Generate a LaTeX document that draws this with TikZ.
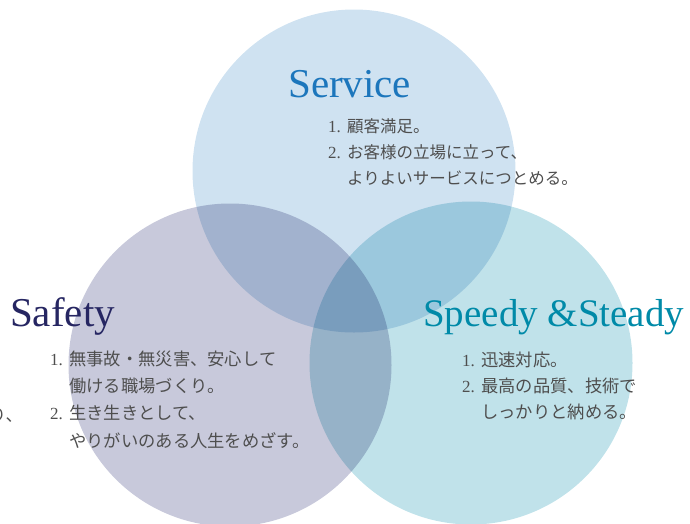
\documentclass[tikz,border=0pt]{standalone}
\usepackage{fontspec}
\setmainfont{Liberation Serif}
\newfontfamily\jpfont{Noto Sans CJK JP}
\usepackage{xcolor}
\definecolor{serviceblue}{RGB}{207,226,241}
\definecolor{safetygray}{RGB}{200,201,219}
\definecolor{speedyaqua}{RGB}{192,226,234}
\definecolor{servicetext}{RGB}{28,118,188}
\definecolor{safetytext}{RGB}{38,38,98}
\definecolor{speedytext}{RGB}{0,138,168}
\definecolor{bodygray}{RGB}{78,78,78}
\newcommand{\itemno}[1]{\makebox[19pt][l]{\rmfamily\fontsize{17}{26.5}\selectfont #1}}
\newcommand{\indentno}{\hspace*{19pt}}
\tikzset{
  ring/.style={circle, minimum size=323pt, inner sep=0pt, blend mode=multiply},
  heading/.style={anchor=base west, inner sep=0pt, font=\fontsize{41}{41}\selectfont},
  points/.style={anchor=base west, inner sep=0pt, align=left, text=bodygray,
    font=\fontsize{17}{26.5}\selectfont\jpfont},
}
\begin{document}
\begin{tikzpicture}[x=1pt, y=-1pt]
    \useasboundingbox (0, 0) rectangle (690, 523);
    % the three circles
    \node[ring, fill=serviceblue] (service) at (354, 171) {};
    \node[ring, fill=safetygray] (safety) at (230, 365) {};
    \node[ring, fill=speedyaqua] (speedy) at (471, 363) {};
    % headings
    \node[heading, text=servicetext] (servicetitle) at (288, 97) {Service};
    \node[heading, text=safetytext] (safetytitle) at (10, 326) {Safety};
    \node[heading, text=speedytext, font=\fontsize{39}{39}\selectfont] (speedytitle) at (423, 326) {Speedy \&Steady};
    % items (anchored at the last line)
    \node[points, font=\fontsize{16.5}{26}\selectfont\jpfont] (servicelist) at (328, 184)
        {\itemno{1.}顧客満足。\\
         \itemno{2.}お客様の立場に立って、\\
         \indentno よりよいサービスにつとめる。};
    \node[points, font=\fontsize{17.3}{27.3}\selectfont\jpfont] (safetylist) at (50, 447)
        {\itemno{1.}無事故・無災害、安心して\\
         \indentno 働ける職場づくり。\\
         \itemno{2.}生き生きとして、\\
         \indentno やりがいのある人生をめざす。};
    \node[points, font=\fontsize{17.3}{26}\selectfont\jpfont] (speedylist) at (462, 418)
        {\itemno{1.}迅速対応。\\
         \itemno{2.}最高の品質、技術で\\
         \indentno しっかりと納める。};
    \node[points] (cutoff) at (-11, 421) {り、};
\end{tikzpicture}
\end{document}
